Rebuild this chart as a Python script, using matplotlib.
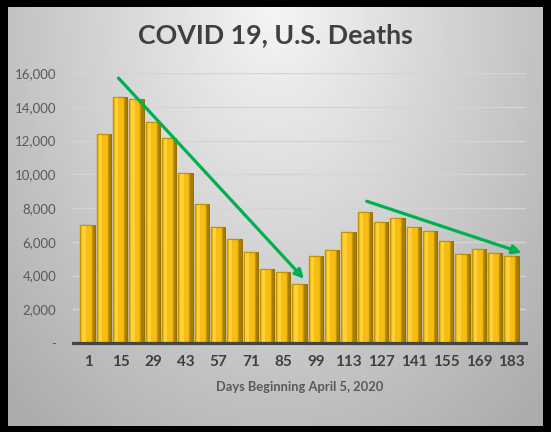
import numpy as np
import matplotlib
matplotlib.use('Agg')
import matplotlib.pyplot as plt
from matplotlib.ticker import FuncFormatter

# weekly deaths, days beginning April 5, 2020
days = [1, 8, 15, 22, 29, 36, 43, 50, 57, 64, 71, 78, 85, 92, 99, 106, 113,
        120, 127, 134, 141, 148, 155, 162, 169, 176, 183]
deaths = [7000, 12400, 14600, 14450, 13100, 12150, 10100, 8250, 6850, 6180,
          5400, 4400, 4180, 3500, 5180, 5530, 6550, 7780, 7200, 7420, 6850,
          6620, 6020, 5250, 5600, 5320, 5130]
y_ticks = [0, 2000, 4000, 6000, 8000, 10000, 12000, 14000, 16000]

# trend arrows: (start index, start value) -> (end index, end value)
arrow_start = [(1.87, 15700), (17.1, 8400)]
arrow_end = [(13.25, 3800), (26.6, 5350)]

plt.rcParams['font.family'] = ['Lato', 'DejaVu Sans']

fig = plt.figure(figsize=(5.51, 4.32), dpi=100)
fig.patch.set_facecolor('black')

# gradient background inside the black frame
bg = fig.add_axes([8 / 551, 6 / 432, 535 / 551, 419 / 432])
gx, gy = np.meshgrid(np.linspace(-1, 1, 300), np.linspace(0, 1, 240))
r = np.sqrt((gx / 1.1) ** 2 + (gy / 1.0) ** 2)
shade = 0.96 - 0.22 * np.clip(r, 0, 1.3)
bg.imshow(shade, cmap='gray', vmin=0, vmax=1, aspect='auto',
          extent=[0, 1, 0, 1], origin='upper')
bg.axis('off')

ax = fig.add_axes([73 / 551, 89 / 432, 453 / 551, 270 / 432])
ax.patch.set_alpha(0)

x = np.arange(len(days))
# side face, front face and a light stripe to fake the 3d look
ax.bar(x + 0.32, deaths, width=0.2, color='#a67c00', edgecolor='#8a6700',
       linewidth=0.6, zorder=2)
ax.bar(x - 0.12, deaths, width=0.68, color='#f8bd12', edgecolor='#c39500',
       linewidth=1, zorder=3)
ax.bar(x - 0.24, np.array(deaths) - 60, width=0.2, color='#ffd03a', zorder=3.5)

ax.set_xlim(-0.92, 26.87)
ax.set_ylim(0, 16000)
ax.set_yticks(y_ticks)
ax.yaxis.set_major_formatter(FuncFormatter(lambda v, p: '-' if v == 0 else f'{int(v):,}'))
ax.grid(axis='y', color='#d4d4d4', linewidth=1)
ax.set_axisbelow(True)

ax.set_xticks(x[::2])
ax.set_xticklabels([str(d) for d in days[::2]])
ax.tick_params(axis='x', length=0, pad=9, labelsize=11, labelcolor='#404040')
for lab in ax.get_xticklabels():
    lab.set_fontweight('bold')
ax.tick_params(axis='y', length=0, pad=12, labelsize=9.5, labelcolor='#595959')

for s in ['top', 'right', 'left']:
    ax.spines[s].set_visible(False)
ax.spines['bottom'].set_color('#454545')
ax.spines['bottom'].set_linewidth(2.3)
ax.spines['bottom'].set_zorder(4)

ax.set_xlabel('Days Beginning April 5, 2020', fontsize=9.3, color='#595959',
              fontweight='bold', labelpad=8)

for s, e in zip(arrow_start, arrow_end):
    ax.annotate('', xy=e, xytext=s,
                arrowprops=dict(arrowstyle='-|>', color='#00b050', lw=2.3,
                                mutation_scale=13, shrinkA=0, shrinkB=0),
                zorder=5)

fig.text(0.5, 1 - 35 / 432, 'COVID 19, U.S. Deaths', ha='center', va='center',
         fontsize=19.3, fontweight='bold', color='#404040')

fig.savefig('out.png', dpi=100, facecolor=fig.get_facecolor())
